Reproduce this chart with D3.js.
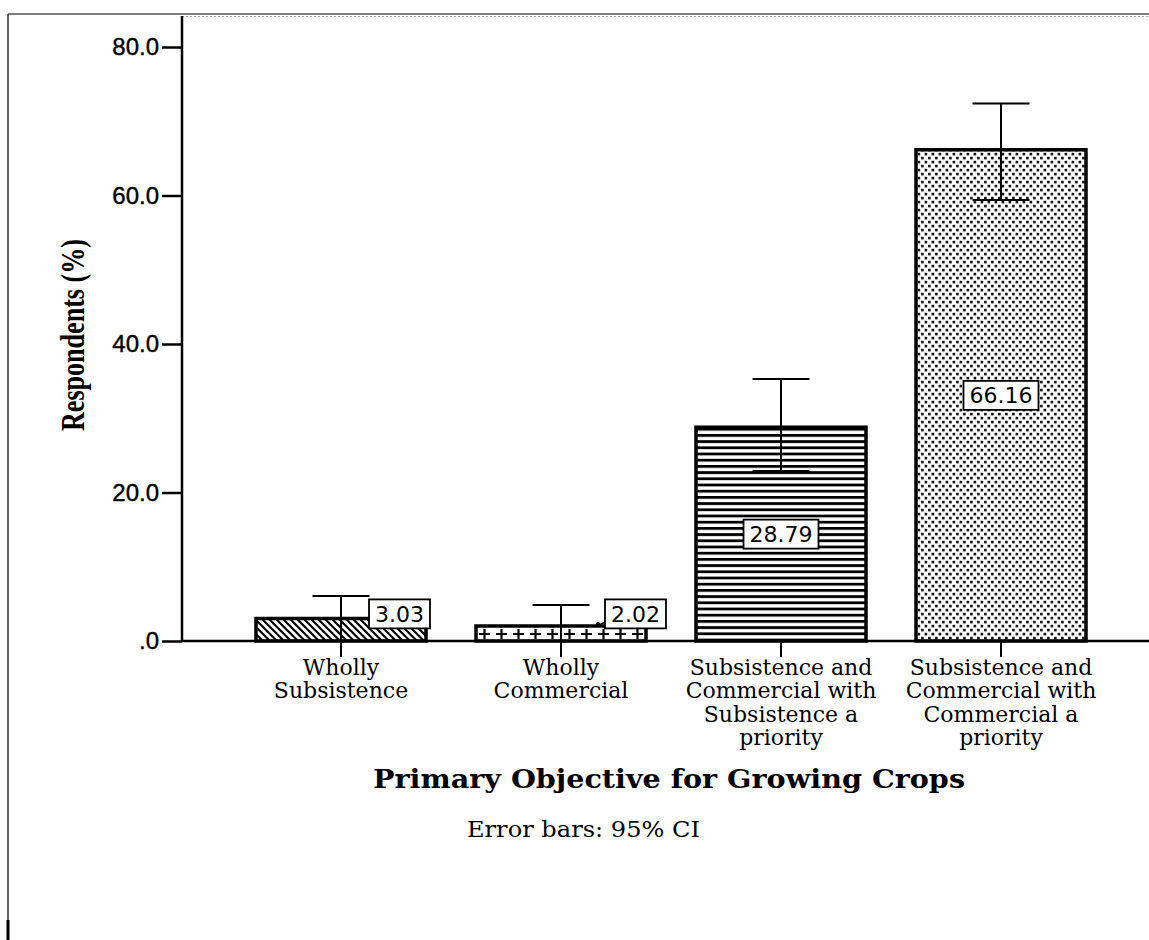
<!DOCTYPE html>
<html>
<head>
<meta charset="utf-8">
<script src="https://cdn.jsdelivr.net/npm/d3@7"></script>
<style>
  html, body { margin: 0; padding: 0; background: #fff; }
  svg { display: block; }
</style>
</head>
<body>
<svg id="chart" width="1149" height="940"></svg>
<script>
// ---- data ----
const categories = [
  "Wholly Subsistence",
  "Wholly Commercial",
  "Subsistence and Commercial with Subsistence a priority",
  "Subsistence and Commercial with Commercial a priority"
];
const categoryLines = [
  ["Wholly", "Subsistence"],
  ["Wholly", "Commercial"],
  ["Subsistence and", "Commercial with", "Subsistence a", "priority"],
  ["Subsistence and", "Commercial with", "Commercial a", "priority"]
];
const percentages = [3.03, 2.02, 28.79, 66.16];
const ciLower = [0.0, 0.0, 22.9, 59.4];
const ciUpper = [6.06, 4.85, 35.3, 72.4];
const yTicks = [0, 20, 40, 60, 80];
const yTickLabels = [".0", "20.0", "40.0", "60.0", "80.0"];
const patternIds = ["hatch", "crosses", "hlines", "dots"];

// ---- layout ----
const svg = d3.select("#chart");
const W = 1149, H = 940;
const plot = { left: 182, top: 16, right: 1149, bottom: 641 };

const y = d3.scaleLinear().domain([0, 80]).range([plot.bottom, 47]);
const x = d3.scaleBand()
  .domain(categories)
  .range([256, 1086])
  .paddingInner(50 / 220)
  .paddingOuter(0);

const serif = "'DejaVu Serif', 'Liberation Serif', serif";
const sans = "'Liberation Sans', Arial, sans-serif";
const labelSans = "'DejaVu Sans', Verdana, sans-serif";

// ---- fill patterns ----
const defs = svg.append("defs");

const hatch = defs.append("pattern").attr("id", "hatch")
  .attr("patternUnits", "userSpaceOnUse").attr("width", 7).attr("height", 7);
hatch.append("rect").attr("width", 7).attr("height", 7).attr("fill", "#fff");
hatch.append("path").attr("d", "M-1,-1 L8,8 M-1,6 L1,8 M6,-1 L8,1")
  .attr("stroke", "#000").attr("stroke-width", 2.2);

const crosses = defs.append("pattern").attr("id", "crosses")
  .attr("patternUnits", "userSpaceOnUse").attr("width", 17).attr("height", 14)
  .attr("x", 476).attr("y", 627);
crosses.append("rect").attr("width", 17).attr("height", 14).attr("fill", "#fff");
crosses.append("path").attr("d", "M3,7 L14,7 M8.5,2 L8.5,12")
  .attr("stroke", "#000").attr("stroke-width", 2.2);

const hlines = defs.append("pattern").attr("id", "hlines")
  .attr("patternUnits", "userSpaceOnUse").attr("width", 10).attr("height", 6.2);
hlines.append("rect").attr("width", 10).attr("height", 6.2).attr("fill", "#fff");
hlines.append("rect").attr("y", 0).attr("width", 10).attr("height", 2.8).attr("fill", "#000");

const dots = defs.append("pattern").attr("id", "dots")
  .attr("patternUnits", "userSpaceOnUse").attr("width", 7).attr("height", 8);
dots.append("rect").attr("width", 7).attr("height", 8).attr("fill", "#fff");
dots.append("rect").attr("x", 0.6).attr("y", 0.8).attr("width", 2.6).attr("height", 2.6).attr("fill", "#111");
dots.append("rect").attr("x", 4.1).attr("y", 4.8).attr("width", 2.6).attr("height", 2.6).attr("fill", "#111");

// ---- outer frame ----
svg.append("line").attr("x1", 8).attr("x2", W).attr("y1", 14).attr("y2", 14)
  .attr("stroke", "#555").attr("stroke-width", 1.5);
svg.append("line").attr("x1", plot.left).attr("x2", W).attr("y1", 16.5).attr("y2", 16.5)
  .attr("stroke", "#aaa").attr("stroke-width", 1).attr("stroke-dasharray", "2,2");
svg.append("line").attr("x1", 8).attr("x2", 8).attr("y1", 14).attr("y2", H)
  .attr("stroke", "#333").attr("stroke-width", 1.5);
svg.append("line").attr("x1", 8).attr("x2", 8).attr("y1", 920).attr("y2", H)
  .attr("stroke", "#000").attr("stroke-width", 3);

// ---- bars ----
const bars = svg.append("g");
bars.selectAll("rect").data(categories).join("rect")
  .attr("x", d => x(d))
  .attr("y", (d, i) => y(percentages[i]))
  .attr("width", x.bandwidth())
  .attr("height", (d, i) => y(0) - y(percentages[i]))
  .attr("fill", (d, i) => `url(#${patternIds[i]})`)
  .attr("stroke", "#000")
  .attr("stroke-width", 3.5);

// ---- axes ----
const yAxis = svg.append("g")
  .attr("transform", `translate(${plot.left},0)`)
  .call(d3.axisLeft(y).tickValues(yTicks)
    .tickFormat((d, i) => yTickLabels[i]).tickSize(20).tickPadding(3));
yAxis.select(".domain").remove();
yAxis.selectAll(".tick line").attr("stroke", "#000").attr("stroke-width", 2.5);
yAxis.selectAll(".tick text")
  .attr("font-family", sans).attr("font-size", 24).attr("fill", "#000")
  .attr("stroke", "#000").attr("stroke-width", 0.4);

svg.append("line").attr("x1", plot.left).attr("x2", plot.left)
  .attr("y1", plot.top).attr("y2", plot.bottom + 1)
  .attr("stroke", "#000").attr("stroke-width", 2.5);

const xAxis = svg.append("g")
  .attr("transform", `translate(0,${plot.bottom})`)
  .call(d3.axisBottom(x).tickSize(16).tickFormat(""));
xAxis.select(".domain").remove();
xAxis.selectAll(".tick line").attr("stroke", "#000").attr("stroke-width", 2);

svg.append("line").attr("x1", plot.left).attr("x2", plot.right)
  .attr("y1", plot.bottom).attr("y2", plot.bottom)
  .attr("stroke", "#000").attr("stroke-width", 2.5);

// category labels
const catText = svg.append("g").selectAll("text").data(categories).join("text")
  .attr("text-anchor", "middle")
  .attr("font-family", serif).attr("font-size", 22).attr("fill", "#000");
catText.each(function (d, i) {
  const t = d3.select(this);
  categoryLines[i].forEach((line, k) => {
    t.append("tspan")
      .attr("x", x(d) + x.bandwidth() / 2)
      .attr("y", 675 + k * 23.3)
      .text(line);
  });
});

// ---- error bars (95% CI) ----
const cap = 28.5;
const eb = svg.append("g").attr("stroke", "#000").attr("stroke-width", 2);
categories.forEach((c, i) => {
  const cx = x(c) + x.bandwidth() / 2;
  eb.append("line").attr("x1", cx).attr("x2", cx)
    .attr("y1", y(ciLower[i])).attr("y2", y(ciUpper[i]));
  eb.append("line").attr("x1", cx - cap).attr("x2", cx + cap)
    .attr("y1", y(ciUpper[i])).attr("y2", y(ciUpper[i]));
  eb.append("line").attr("x1", cx - cap).attr("x2", cx + cap)
    .attr("y1", y(ciLower[i])).attr("y2", y(ciLower[i]));
});

// ---- value labels ----
// Bars too short to hold a label get it beside them, above the baseline.
const outsideShift = [28, 44];
const boxH = 29;
const lab = svg.append("g");
categories.forEach((c, i) => {
  const cx = x(c) + x.bandwidth() / 2;
  const v = percentages[i];
  const g = lab.append("g");
  const rect = g.append("rect").attr("fill", "#fff").attr("stroke", "#000").attr("stroke-width", 1.8);
  const txt = g.append("text")
    .attr("font-family", labelSans).attr("font-size", 22).attr("fill", "#000")
    .attr("text-anchor", "middle")
    .text(v.toFixed(2));
  const tw = txt.node().getComputedTextLength();
  const bw = tw + 12;
  const inside = (y(0) - y(v)) > boxH + 6;
  const bx = inside ? cx - bw / 2 : cx + outsideShift[i];
  const by = inside ? y(v / 2) - boxH / 2 : y(3.65) - boxH / 2;
  rect.attr("x", bx).attr("y", by).attr("width", bw).attr("height", boxH);
  txt.attr("x", bx + bw / 2).attr("y", by + boxH / 2 + 8);
  if (!inside && i === 1) {
    g.append("line").attr("x1", bx - 9).attr("y1", y(v))
      .attr("x2", bx).attr("y2", by + boxH - 6)
      .attr("stroke", "#000").attr("stroke-width", 1.5);
    g.append("circle").attr("cx", bx - 7).attr("cy", y(v) - 2).attr("r", 2).attr("fill", "#000");
  }
});

// ---- titles ----
svg.append("text")
  .attr("transform", `translate(84,335) rotate(-90)`)
  .attr("text-anchor", "middle")
  .attr("font-family", "'Liberation Serif', 'Times New Roman', serif")
  .attr("font-weight", "bold").attr("font-size", 33)
  .attr("textLength", 192).attr("lengthAdjust", "spacingAndGlyphs")
  .attr("fill", "#000")
  .text("Respondents (%)");

svg.append("text")
  .attr("x", 669).attr("y", 788)
  .attr("text-anchor", "middle")
  .attr("font-family", serif).attr("font-weight", "bold").attr("font-size", 26)
  .attr("textLength", 592).attr("lengthAdjust", "spacingAndGlyphs")
  .attr("fill", "#000")
  .text("Primary Objective for Growing Crops");

svg.append("text")
  .attr("x", 467).attr("y", 837)
  .attr("font-family", serif).attr("font-size", 23)
  .attr("textLength", 233).attr("lengthAdjust", "spacingAndGlyphs")
  .attr("fill", "#000")
  .text("Error bars: 95% CI");
</script>
</body>
</html>
